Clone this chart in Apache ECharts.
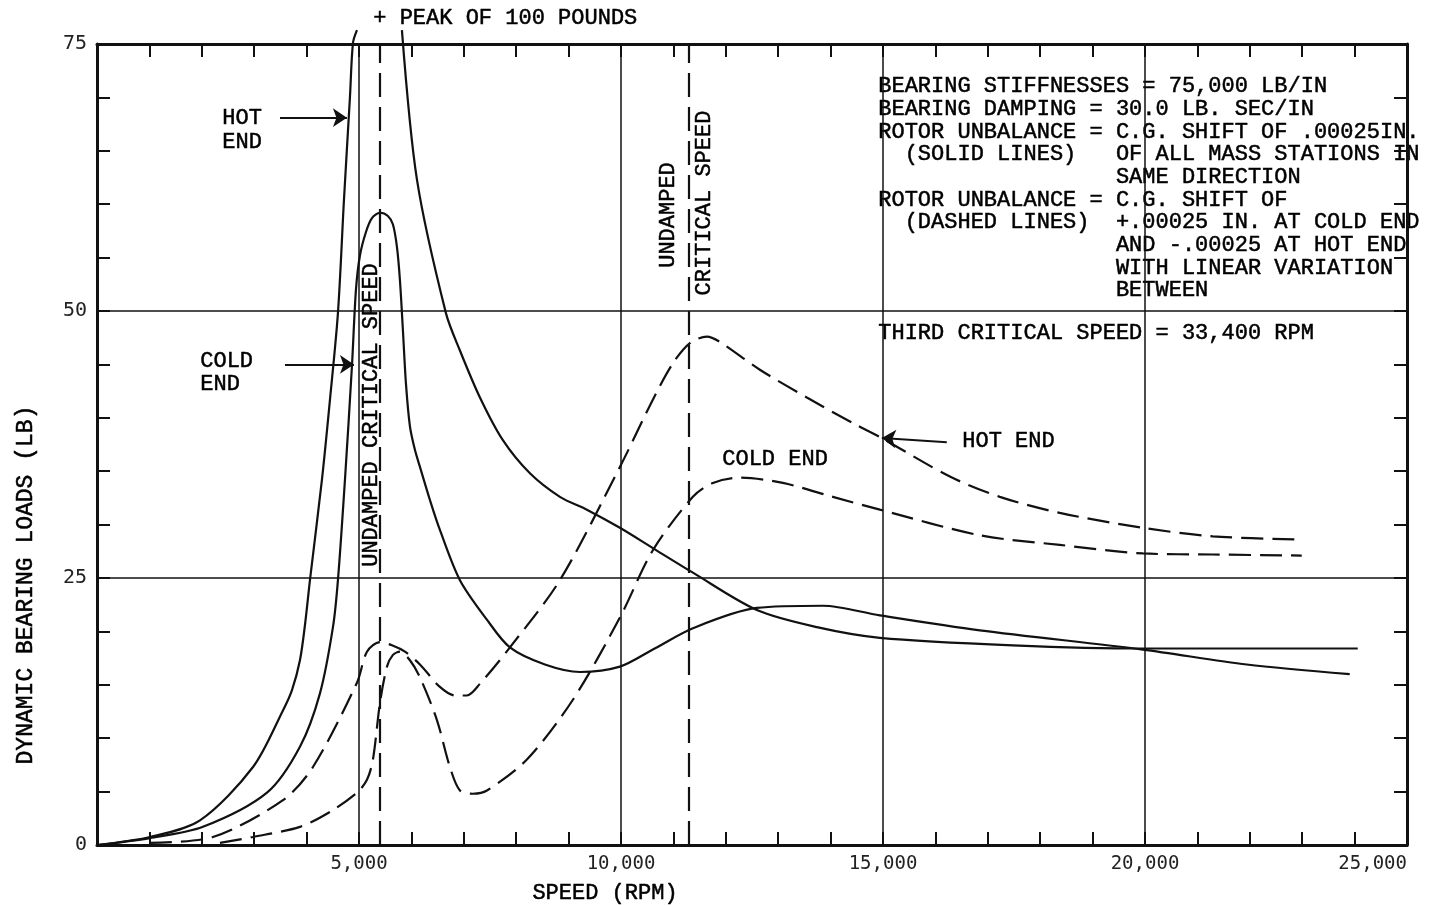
<!DOCTYPE html>
<html><head><meta charset="utf-8">
<script src="https://cdn.jsdelivr.net/npm/echarts@6/dist/echarts.min.js"></script>
<style>html,body{margin:0;padding:0;background:#fff}#c{width:1434px;height:906px}</style>
</head><body><div id="c"></div>
<script>
// ---- data (speed in RPM, dynamic bearing load in LB) ----
const hotSolidRise = [[0,0],[1011,0.75],[1965,2.3],[2977,7.3],[3549,12.6],[3721,14.5],[3873,17.3],[3969,20.6],[4064,24.8],[4293,34.2],[4446,41.7],[4598,49.8],[4713,60.4],[4827,70.0],[4885,75.1],[4961,76.3]];
const hotSolidFall = [[5819,76.3],[6106,62.3],[6659,49.8],[6926,46.3],[7308,41.9],[7746,37.9],[8262,34.8],[8834,32.6],[9349,31.4],[9979,29.7],[10608,27.8],[11372,25.5],[12593,22.0],[13738,20.4],[14940,19.4],[17477,18.7],[19958,18.4],[21942,18.4],[24060,18.4]];
const coldSolid = [[0,0],[1011,0.65],[2022,1.7],[3244,4.9],[3873,9.2],[4255,14.2],[4503,20.4],[4598,24.8],[4732,34.2],[4866,44.9],[4942,52.0],[5018,55.2],[5133,57.4],[5247,58.7],[5400,59.2],[5552,58.9],[5648,58.1],[5724,56.0],[5781,52.9],[5838,48.2],[5896,43.2],[5972,39.2],[6067,37.0],[6163,35.4],[6354,32.3],[6544,29.5],[6926,24.8],[7441,21.1],[7880,18.5],[8548,16.9],[9216,16.2],[9979,16.7],[10608,18.3],[11372,20.3],[12593,22.2],[13852,22.4],[14940,21.5],[16848,20.1],[19958,18.3],[21942,16.9],[23907,16.0]];
const hotDashed = [[1011,0.2],[2213,0.75],[3549,4.2],[4121,7.3],[4961,15.2],[5152,18.1],[5400,19.0],[5629,18.7],[5877,18.1],[6163,16.9],[6544,14.8],[6831,14.0],[7060,14.0],[7308,15.1],[7880,18.5],[8834,24.8],[9979,35.4],[10608,41.7],[10990,45.1],[11315,47.0],[11639,47.6],[11887,47.1],[12650,44.5],[13547,41.9],[14425,39.5],[14940,38.2],[16276,34.5],[17229,32.6],[18374,31.1],[19958,29.7],[21294,28.9],[22991,28.6]];
const coldDashed = [[2347,0.2],[2977,0.75],[3873,1.7],[4446,3.1],[4961,4.9],[5152,6.1],[5266,8.0],[5400,13.3],[5534,16.7],[5648,17.8],[5781,18.1],[5972,17.3],[6163,15.7],[6487,11.7],[6735,7.3],[6926,5.1],[7174,4.8],[7441,5.1],[8204,8.0],[9082,13.6],[9979,21.3],[10608,27.6],[11372,32.6],[11754,33.9],[12269,34.4],[13089,33.9],[14043,32.6],[14940,31.4],[16848,29.0],[18374,28.1],[19958,27.3],[21294,27.2],[22991,27.1]];
const criticalSpeeds = [5400, 11300];
const xRange = [0, 25000];
const xMajor = 5000;
const yRange = [0, 75];
const yMajor = 25;
// annotation arrows [from, to] in data units
const arrowHotLeft = [[3492,68.1],[4770,68.1]];
const arrowColdLeft = [[3587,45.0],[4904,45.0]];
const arrowHotRight = [[16218,37.7],[14978,38.1]];
const noteLines = [
  "BEARING STIFFNESSES = 75,000 LB/IN",
  "BEARING DAMPING = 30.0 LB. SEC/IN",
  "ROTOR UNBALANCE = C.G. SHIFT OF .00025IN.",
  "  (SOLID LINES)   OF ALL MASS STATIONS IN",
  "                  SAME DIRECTION",
  "ROTOR UNBALANCE = C.G. SHIFT OF",
  "  (DASHED LINES)  +.00025 IN. AT COLD END",
  "                  AND -.00025 AT HOT END",
  "                  WITH LINEAR VARIATION",
  "                  BETWEEN"
];

const MONO = "'Liberation Mono','Courier New',monospace";
const TICKF = "'DejaVu Sans Mono','Liberation Mono',monospace";
const INK = '#111';

const chart = echarts.init(document.getElementById('c'), null, {renderer:'canvas'});

function axisX(pos, labels){
  return {
    type:'value', position:pos, min:xRange[0], max:xRange[1], interval:xMajor,
    axisLine:{show:true, onZero:false, lineStyle:{color:INK, width:3}},
    axisTick:{show:true, inside:true, length:13, lineStyle:{color:INK, width:2}},
    minorTick:{show:true, splitNumber:5, length:13, lineStyle:{color:INK, width:2}},
    splitLine:{show:labels, lineStyle:{color:INK, width:1.5}},
    axisLabel:{show:labels, margin:10, color:'#222', fontFamily:TICKF, fontSize:19, alignMaxLabel:'right',
      formatter:v => v === 0 ? '' : v.toLocaleString('en-US')}
  };
}
function axisY(pos, labels){
  return {
    type:'value', position:pos, min:yRange[0], max:yRange[1], interval:yMajor,
    axisLine:{show:true, onZero:false, lineStyle:{color:INK, width:3}},
    axisTick:{show:true, inside:true, length:13, lineStyle:{color:INK, width:2}},
    minorTick:{show:true, splitNumber:5, length:13, lineStyle:{color:INK, width:2}},
    splitLine:{show:labels, lineStyle:{color:INK, width:1.5}},
    axisLabel:{show:labels, margin:10, color:'#222', fontFamily:TICKF, fontSize:20}
  };
}

const lineBase = {type:'line', showSymbol:false, symbol:'none', smooth:0.3,
  clip:false, silent:true, animation:false, xAxisIndex:0, yAxisIndex:0};
const solid = {color:INK, width:2.2, type:'solid'};
const dashed = {color:INK, width:2.2, type:[22,9]};

function arrowLine(a){ return [{coord:a[0], symbol:'none'}, {coord:a[1], symbol:'arrow'}]; }
function txt(s, size, extra){ return Object.assign({text:s, font:size+'px '+MONO, fill:'#000', stroke:'#000', lineWidth:0.5}, extra||{}); }

chart.setOption({
  animation:false,
  backgroundColor:'#fff',
  grid:{left:97, top:44, width:1310, height:801, containLabel:false, outerBoundsMode:'none'},
  xAxis:[axisX('bottom', true), axisX('top', false)],
  yAxis:[axisY('left', true), axisY('right', false)],
  series:[
    Object.assign({}, lineBase, {name:'Hot end (solid)', data:[...hotSolidRise, [5400,'-'], ...hotSolidFall], lineStyle:solid,
      markLine:{silent:true, symbol:['none','none'], animation:false, label:{show:false},
        lineStyle:{color:INK, width:2.2, type:[24,10]},
        data:criticalSpeeds.map(v => ({xAxis:v}))}}),
    Object.assign({}, lineBase, {name:'Cold end (solid)', data:coldSolid, lineStyle:solid,
      markLine:{silent:true, animation:false, symbolSize:14, label:{show:false},
        lineStyle:{color:INK, width:2, type:'solid'},
        data:[arrowLine(arrowHotLeft), arrowLine(arrowColdLeft), arrowLine(arrowHotRight)]}}),
    Object.assign({}, lineBase, {name:'Hot end (dashed)', data:hotDashed, lineStyle:dashed}),
    Object.assign({}, lineBase, {name:'Cold end (dashed)', data:coldDashed, lineStyle:dashed})
  ],
  graphic:[
    {type:'text', left:373, top:7, style:txt('+ PEAK OF 100 POUNDS', 22)},
    {type:'text', left:222, top:106, style:txt('HOT\nEND', 22, {lineHeight:24})},
    {type:'text', left:200, top:350, style:txt('COLD\nEND', 22, {lineHeight:23})},
    {type:'text', left:962, top:430, style:txt('HOT END', 22)},
    {type:'text', left:722, top:448, style:txt('COLD END', 22)},
    {type:'text', left:878, top:75, style:txt(noteLines.join('\n'), 22, {lineHeight:22.7})},
    {type:'text', left:878, top:322, style:txt('THIRD CRITICAL SPEED = 33,400 RPM', 22)},
    {type:'text', x:371, y:415, rotation:Math.PI/2, style:txt('UNDAMPED CRITICAL SPEED', 22, {align:'center', verticalAlign:'middle'})},
    {type:'text', x:668, y:215, rotation:Math.PI/2, style:txt('UNDAMPED', 22, {align:'center', verticalAlign:'middle'})},
    {type:'text', x:704, y:203, rotation:Math.PI/2, style:txt('CRITICAL SPEED', 22, {align:'center', verticalAlign:'middle'})},
    {type:'text', x:26, y:585, rotation:Math.PI/2, style:txt('DYNAMIC BEARING LOADS (LB)', 23, {align:'center', verticalAlign:'middle'})},
    {type:'text', x:605, y:893, style:txt('SPEED (RPM)', 22, {align:'center', verticalAlign:'middle'})}
  ]
});
</script>
</body></html>
